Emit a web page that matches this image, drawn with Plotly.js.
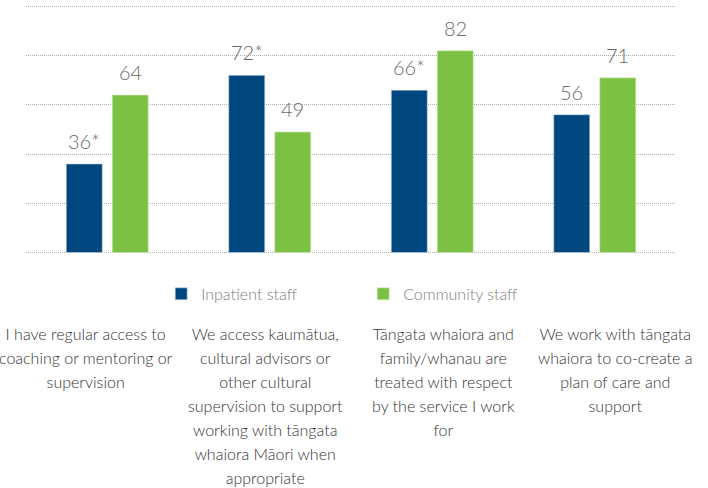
<!DOCTYPE html>
<html><head><meta charset="utf-8">
<script src="https://cdn.plot.ly/plotly-3.0.1.min.js"></script>
<style>html,body{margin:0;padding:0;background:#fff}</style>
</head><body>
<div id="chart" style="width:708px;height:488px"></div>
<script>
const categories = [
  'I have regular access to<br>coaching or mentoring or<br>supervision',
  'We access kaumātua,<br>cultural advisors or<br>other cultural<br>supervision to support<br>working with tāngata<br>whaiora Māori when<br>appropriate',
  'Tāngata whaiora and<br>family/whanau are<br>treated with respect<br>by the service I work<br>for',
  'We work with tāngata<br>whaiora to co-create a<br>plan of care and<br>support'
];
const seriesNames = ['Inpatient staff', 'Community staff'];
const inpatient = [36, 72, 66, 56];
const community = [64, 49, 82, 71];
const inpatientLabels = ['36*', '72*', '66*', '56'];
const communityLabels = ['64', '49', '82', '71'];
const yTicks = [0, 20, 40, 60, 80, 100];

const navy = '#00467f';
const green = '#7cc143';
const lightFont = 'Lato, "Open Sans", sans-serif';

// label text boxes under the chart (paper x of each box centre)
const labelCentres = [0.092, 0.368, 0.642, 0.906];

const traces = [
  {type: 'bar', name: seriesNames[0], x: categories, y: inpatient,
   marker: {color: navy, line: {color: '#c9d6e3', width: 0.6}}, hoverinfo: 'skip'},
  {type: 'bar', name: seriesNames[1], x: categories, y: community,
   marker: {color: green, line: {color: '#d6ecc4', width: 0.6}}, hoverinfo: 'skip'}
];

const annotations = [];
categories.forEach((c, i) => {
  annotations.push({x: c, y: inpatient[i], xref: 'x', yref: 'y', text: inpatientLabels[i],
    showarrow: false, xshift: -23, yshift: 9, yanchor: 'bottom',
    font: {family: lightFont, size: 20, color: '#6a6a6a', weight: 300}});
  annotations.push({x: c, y: community[i], xref: 'x', yref: 'y', text: communityLabels[i],
    showarrow: false, xshift: 23, yshift: 9, yanchor: 'bottom',
    font: {family: lightFont, size: 20, color: '#6a6a6a', weight: 300}});
  const txt = c.split('<br>').map(l => '<span style="font-size:16px">' + l + '</span>').join('<br>');
  annotations.push({x: labelCentres[i], xref: 'paper', xanchor: 'center',
    y: -0.267, yref: 'paper', yanchor: 'top', align: 'center', showarrow: false,
    text: txt, font: {family: lightFont, size: 18.5, color: '#333333', weight: 300}});
});

const layout = {
  width: 708, height: 488,
  margin: {l: 26, r: 32, t: 4, b: 233, autoexpand: false},
  paper_bgcolor: '#ffffff', plot_bgcolor: '#ffffff',
  barmode: 'group', bargap: 0.434, bargroupgap: 0.217,
  showlegend: true,
  legend: {orientation: 'h', x: 0.208, xanchor: 'left', y: -0.155, yanchor: 'middle',
    entrywidth: 157, entrywidthmode: 'pixels', traceorder: 'normal',
    font: {family: lightFont, size: 16, color: '#808080', weight: 300}},
  xaxis: {type: 'category', showgrid: false, zeroline: false, showline: false,
    showticklabels: false, ticks: '', automargin: false},
  yaxis: {range: [-1, 101], tickvals: yTicks, showticklabels: false, showgrid: true,
    gridcolor: '#b0b0b0', gridwidth: 1, griddash: '1px,1px', zeroline: false, showline: false,
    automargin: false, fixedrange: true},
  annotations: annotations
};

Plotly.newPlot('chart', traces, layout, {displayModeBar: false, staticPlot: true});
</script>
</body></html>
